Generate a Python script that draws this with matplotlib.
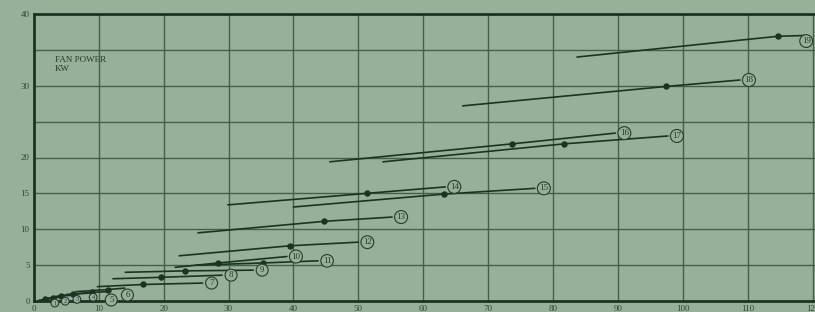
import matplotlib
matplotlib.use('Agg')
import matplotlib.pyplot as plt

# each curve: start point, marked (dot) point, end point
curve_ids = list(range(1, 20))
curve_x = [
    [0.8, 1.8, 2.6],
    [1.5, 3.0, 4.2],
    [2.2, 4.2, 6.0],
    [3.2, 6.0, 8.5],
    [5.0, 9.0, 11.5],
    [6.5, 11.5, 14.0],
    [9.8, 16.8, 26.0],
    [12.2, 19.6, 29.0],
    [14.1, 23.3, 33.8],
    [21.8, 28.4, 39.0],
    [25.0, 35.3, 43.8],
    [22.4, 39.5, 50.0],
    [25.3, 44.7, 55.2],
    [29.9, 51.3, 63.4],
    [40.0, 63.2, 77.2],
    [45.6, 73.7, 89.6],
    [53.8, 81.7, 97.7],
    [66.1, 97.4, 108.8],
    [83.7, 114.7, 118.8],
]
curve_y = [
    [0.1, 0.25, 0.3],
    [0.25, 0.45, 0.55],
    [0.4, 0.7, 0.8],
    [0.6, 0.95, 1.1],
    [0.9, 1.2, 1.3],
    [1.3, 1.6, 1.8],
    [2.0, 2.3, 2.5],
    [3.1, 3.3, 3.6],
    [4.0, 4.2, 4.3],
    [4.7, 5.3, 6.2],
    [5.0, 5.3, 5.6],
    [6.3, 7.7, 8.2],
    [9.5, 11.1, 11.7],
    [13.4, 15.0, 15.9],
    [13.1, 14.9, 15.7],
    [19.4, 21.9, 23.4],
    [19.4, 21.9, 23.0],
    [27.2, 29.9, 30.8],
    [34.0, 36.9, 37.0],
]

x_ticks = [0, 10, 20, 30, 40, 50, 60, 70, 80, 90, 100, 110, 120]
y_ticks = [0, 5, 10, 15, 20, 30, 40]
y_grid = [5, 10, 15, 20, 25, 30, 35]

bg = '#97b099'
dark = '#1d3322'
grid_c = '#42604a'

# label offsets in points from the end of each curve
label_off = {1: (3, -3), 2: (3, -3), 3: (3, -3), 4: (3, -3), 5: (2, -6), 6: (2, -5),
             19: (1, -4)}

plt.rcParams['font.family'] = ['Liberation Serif', 'DejaVu Serif']

fig = plt.figure(figsize=(8.15, 3.12), dpi=100, facecolor=bg)
ax = fig.add_axes([33.8 / 815, 1 - 301 / 312, (815 - 33.8) / 815, 287 / 312])
ax.set_facecolor(bg)
ax.set_xlim(0, (815 - 33.8) / 6.49)
ax.set_ylim(0, 40)

for gx in x_ticks[1:]:
    ax.axvline(gx, color=grid_c, lw=1.0, zorder=1)
for gy in y_grid:
    ax.axhline(gy, color=grid_c, lw=1.0, zorder=1)

for cid, xs, ys in zip(curve_ids, curve_x, curve_y):
    ax.plot(xs, ys, color=dark, lw=1.2, zorder=3, solid_capstyle='round')
    ax.plot([xs[1]], [ys[1]], 'o', color=dark, ms=3.6, zorder=4)
    dx, dy = label_off.get(cid, (6.5, 0))
    fs = 4.5 if cid <= 4 else 6.5
    ax.annotate(str(cid), xy=(xs[-1], ys[-1]), xytext=(dx, dy), textcoords='offset points',
                ha='center', va='center', fontsize=fs, color='#2a3a2c', zorder=5,
                bbox=dict(boxstyle='circle,pad=0.22', fc=bg, ec='#2a3a2c', lw=0.8))

ax.text(3.2, 34.1, 'FAN POWER\nKW', fontsize=6.5, color='#2a3a2c', va='top', ha='left',
        linespacing=1.05)

ax.set_xticks(x_ticks)
ax.set_yticks(y_ticks)
ax.tick_params(length=0, labelsize=6.5, colors='#34443a', pad=3)
for s in ['left', 'bottom', 'top']:
    ax.spines[s].set_color(dark)
    ax.spines[s].set_linewidth(2.0)
ax.spines['right'].set_visible(False)

fig.savefig('out.png', dpi=100, facecolor=bg)
